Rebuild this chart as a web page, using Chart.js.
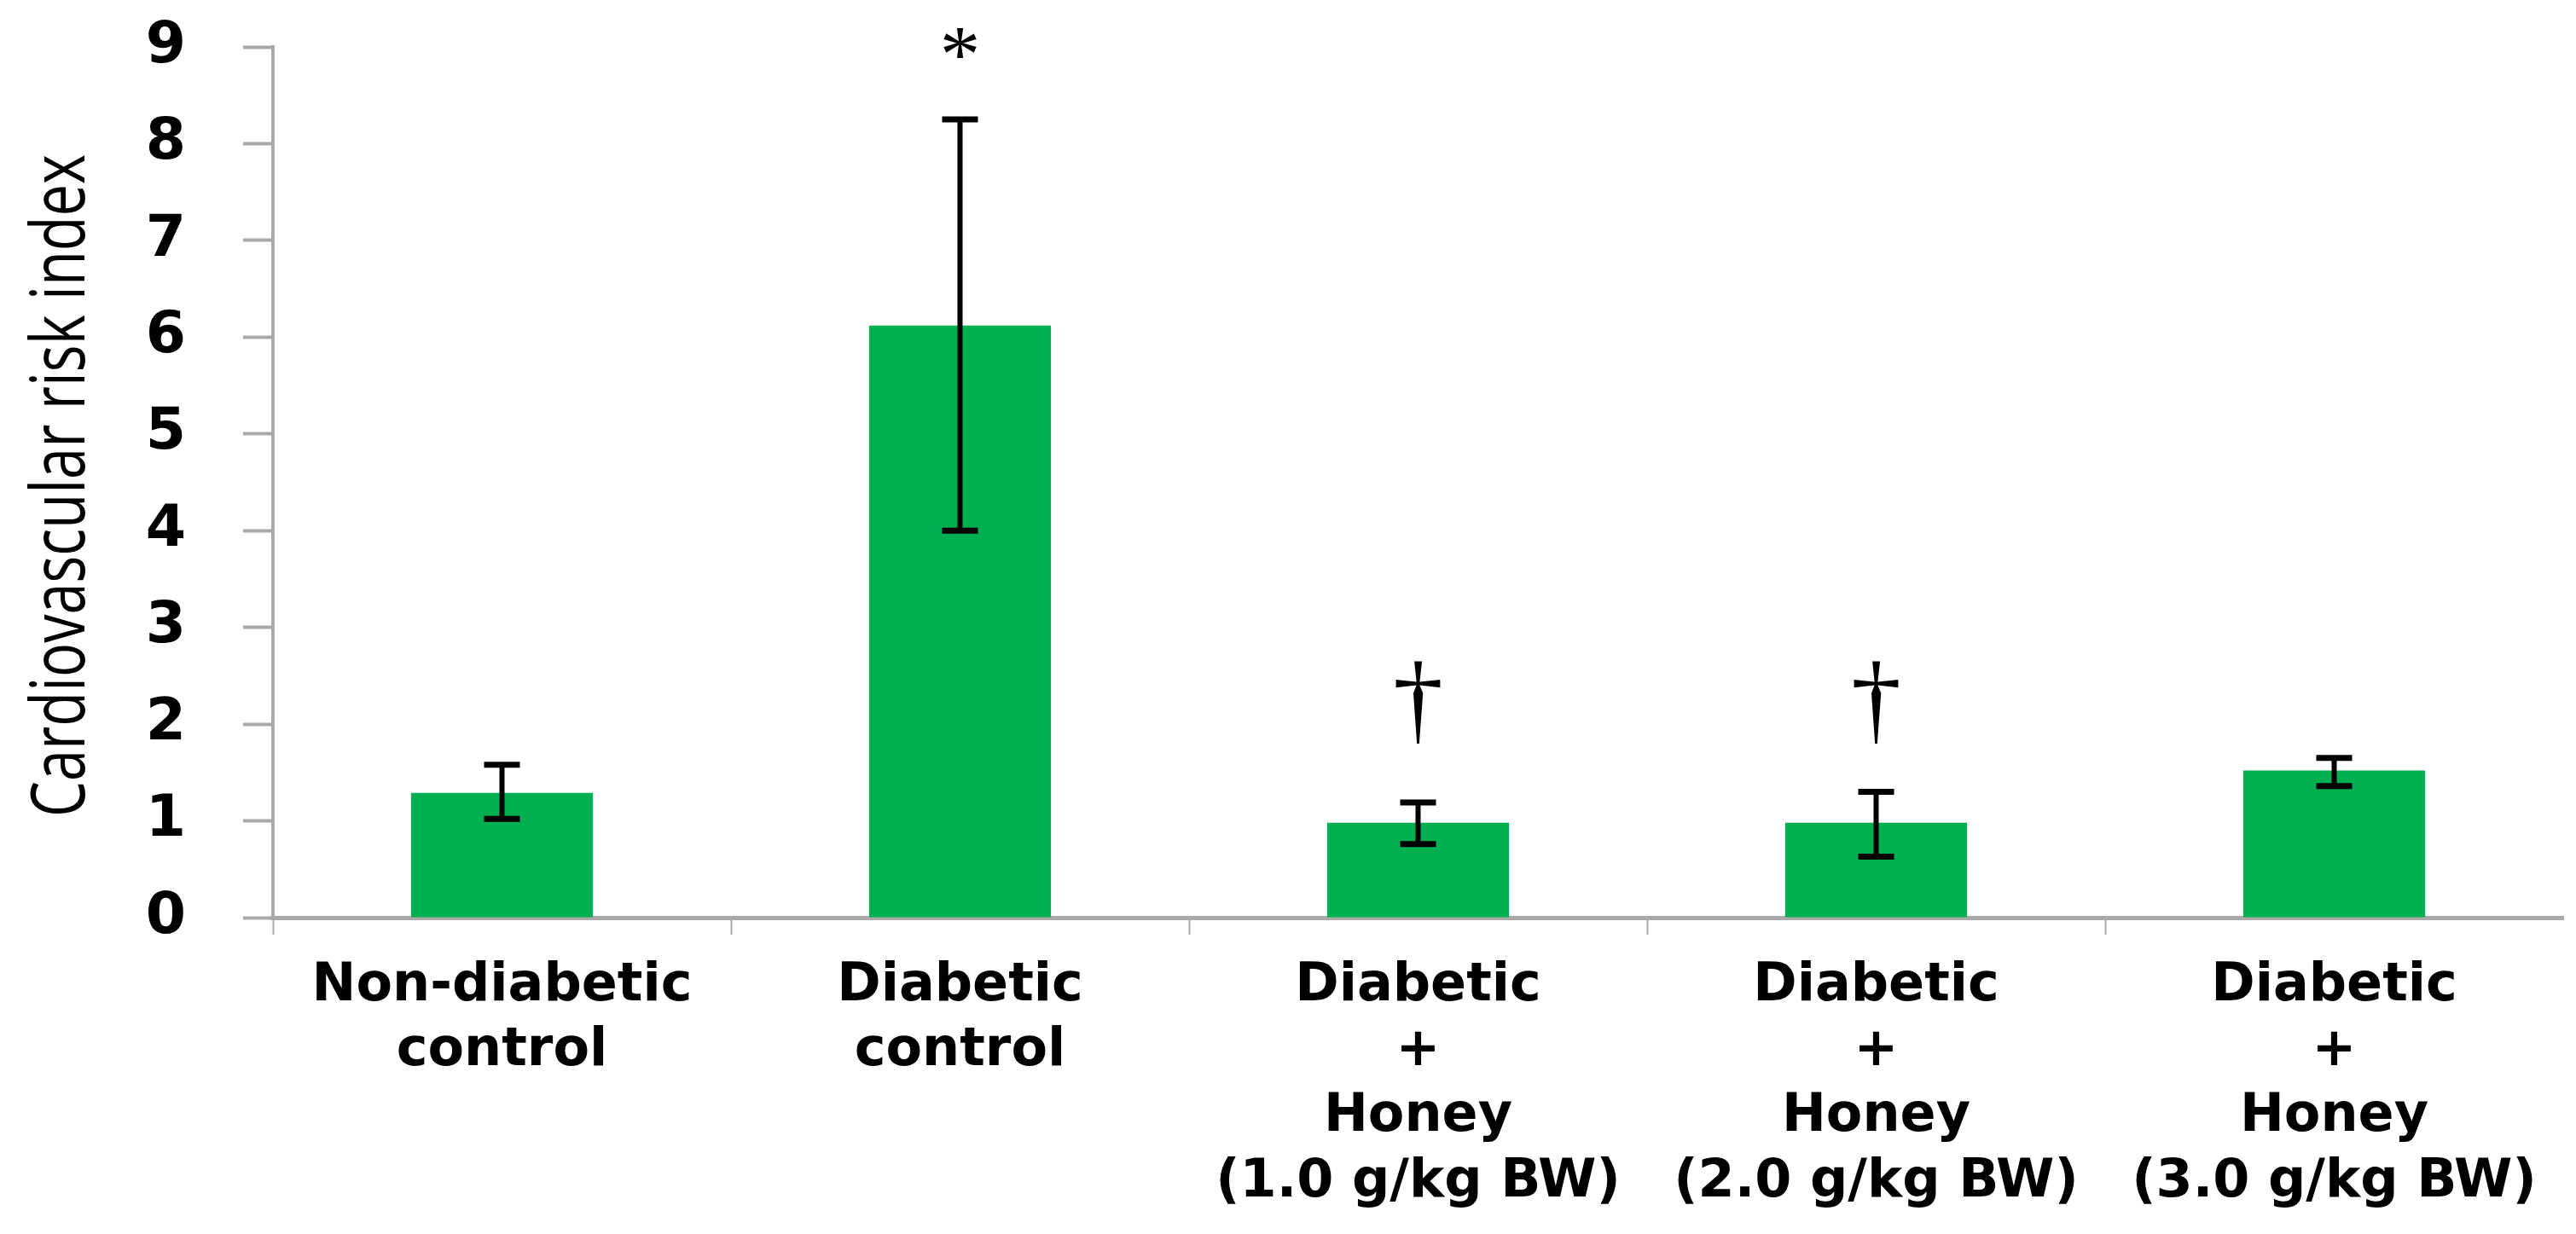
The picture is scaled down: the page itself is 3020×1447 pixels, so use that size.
<!DOCTYPE html>
<html><head><meta charset="utf-8">
<script src="https://cdn.jsdelivr.net/npm/chart.js@4.4.1/dist/chart.umd.min.js"></script>
<style>html,body{margin:0;padding:0;background:#fff;} #wrap{width:3020px;height:1447px;}</style>
</head><body><div id="wrap"><canvas id="c" width="3020" height="1447"></canvas></div>
<script>
const categories = [
  ["Non-diabetic", "control"],
  ["Diabetic", "control"],
  ["Diabetic", "+", "Honey", "(1.0 g/kg BW)"],
  ["Diabetic", "+", "Honey", "(2.0 g/kg BW)"],
  ["Diabetic", "+", "Honey", "(3.0 g/kg BW)"]
];
const meanValues = [1.29, 6.12, 0.98, 0.98, 1.52];
const errorLow = [1.02, 4.00, 0.76, 0.63, 1.36];
const errorHigh = [1.58, 8.25, 1.19, 1.30, 1.65];
const markSymbols = ["", "*", "\u2020", "\u2020", ""];
const markValues = [null, 8.64, 1.92, 1.92, null];
const yTickValues = [0, 1, 2, 3, 4, 5, 6, 7, 8, 9];
const yTitle = "Cardiovascular risk index";

const GREY = '#A9A9A9';

const errorBarPlugin = {
  id: 'errorBars',
  afterDatasetsDraw(chart) {
    const ctx = chart.ctx;
    const meta = chart.getDatasetMeta(0);
    const ys = chart.scales.y;
    ctx.save();
    ctx.strokeStyle = '#000';
    ctx.lineCap = 'butt';
    meta.data.forEach((bar, i) => {
      const x = bar.x;
      const yh = ys.getPixelForValue(errorHigh[i]);
      const yl = ys.getPixelForValue(errorLow[i]);
      const cap = 21;
      ctx.lineWidth = 6;
      ctx.beginPath();
      ctx.moveTo(x, yh); ctx.lineTo(x, yl);
      ctx.stroke();
      ctx.lineWidth = 7;
      ctx.beginPath();
      ctx.moveTo(x - cap, yh); ctx.lineTo(x + cap, yh);
      ctx.moveTo(x - cap, yl); ctx.lineTo(x + cap, yl);
      ctx.stroke();
    });
    ctx.fillStyle = '#000';
    ctx.textAlign = 'center';
    ctx.textBaseline = 'alphabetic';
    meta.data.forEach((bar, i) => {
      if (!markSymbols[i]) return;
      const size = markSymbols[i] === '*' ? 95 : 118;
      ctx.font = size + "px 'Liberation Serif', 'DejaVu Serif', serif";
      ctx.fillText(markSymbols[i], bar.x, ys.getPixelForValue(markValues[i]));
    });
    ctx.restore();
  }
};

const yTitlePlugin = {
  id: 'yTitle',
  afterDraw(chart) {
    const ctx = chart.ctx;
    const area = chart.chartArea;
    const cy = (area.top + area.bottom) / 2 + 4;
    ctx.save();
    ctx.font = "88px 'Open Sans', 'DejaVu Sans', sans-serif";
    ctx.fillStyle = '#000';
    ctx.textAlign = 'center';
    ctx.textBaseline = 'alphabetic';
    const w = ctx.measureText(yTitle).width;
    ctx.translate(99, cy);
    ctx.rotate(-Math.PI / 2);
    ctx.scale(777 / w, 1);
    ctx.fillText(yTitle, 0, 0);
    ctx.restore();
  }
};

new Chart(document.getElementById('c'), {
  type: 'bar',
  data: {
    labels: categories,
    datasets: [{
      data: meanValues,
      backgroundColor: '#00B050',
      borderWidth: 0,
      categoryPercentage: 1,
      barPercentage: 0.397
    }]
  },
  options: {
    responsive: false,
    devicePixelRatio: 1,
    animation: false,
    layout: { padding: { top: 55, right: 15, left: 0, bottom: 0 } },
    plugins: { legend: { display: false }, tooltip: { enabled: false } },
    scales: {
      x: {
        z: 1,
        grid: {
          display: true, drawOnChartArea: false, drawTicks: true,
          tickLength: 20, tickWidth: 2, offset: true,
          tickColor: (c) => (c.index === undefined ? 'rgba(0,0,0,0)' : GREY)
        },
        border: { display: true, color: GREY, width: 5 },
        ticks: {
          color: '#000', padding: 22, maxRotation: 0, minRotation: 0, autoSkip: false,
          font: { family: "'DejaVu Sans', Verdana, sans-serif", weight: 'bold', size: 62, lineHeight: 1.24 }
        },
        afterFit(s) { s.height = 371; s.paddingLeft = 0; s.paddingRight = 0; }
      },
      y: {
        min: 0, max: 9,
        afterBuildTicks(s) { s.ticks = yTickValues.map(v => ({ value: v })); },
        ticks: {
          color: '#000', padding: 67,
          font: { family: "'DejaVu Sans', Verdana, sans-serif", weight: 'bold', size: 68 }
        },
        grid: { drawOnChartArea: false, drawTicks: true, tickLength: 35, tickWidth: 4, tickColor: GREY },
        border: { display: true, color: GREY, width: 4 },
        title: { display: false },
        afterFit(s) { s.width = 320; s.paddingTop = 0; s.paddingBottom = 0; }
      }
    }
  },
  plugins: [errorBarPlugin, yTitlePlugin]
});
</script>
</body></html>
